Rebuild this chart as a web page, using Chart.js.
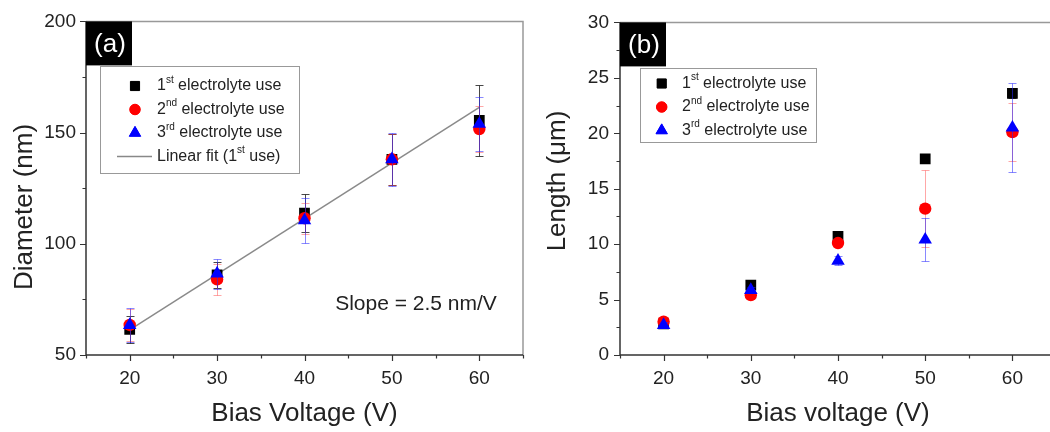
<!DOCTYPE html>
<html>
<head>
<meta charset="utf-8">
<script src="https://cdn.jsdelivr.net/npm/chart.js@4/dist/chart.umd.min.js"></script>
<style>
  html, body { margin: 0; padding: 0; background: #fff; overflow: hidden; width: 1050px; height: 432px; }
  .panel { position: absolute; top: 0; }
  #panelA { left: 0; }
  #panelB { left: 540px; }
</style>
</head>
<body>
<div class="panel" id="panelA"><canvas id="chartA" width="540" height="432"></canvas></div>
<div class="panel" id="panelB"><canvas id="chartB" width="540" height="432"></canvas></div>
<script>
// Bias voltages (V)
const voltages = [20, 30, 40, 50, 60];

// (a) nanotube diameter (nm) with standard deviations
const diam1 = [61.5, 86.0, 113.8, 138.0, 155.5];
const diam1Err = [6.0, 6.0, 8.6, 11.5, 16.0];
const diam2 = [63.5, 84.0, 111.5, 138.0, 151.6];
const diam2Err = [7.0, 7.0, 7.0, 11.5, 10.5];
const diam3 = [63.5, 86.6, 110.5, 138.0, 153.9];
const diam3Err = [7.5, 6.7, 10.0, 12.0, 12.0];

// Linear fit of the 1st-use diameters, evaluated at the end voltages
const fitVoltages = [20, 60];
const fitDiam = [61.3, 161.3];

// (b) nanotube length (µm) with standard deviations
const len1 = [2.8, 6.3, 10.7, 17.7, 23.6];
const len1Err = [0.2, 0.2, 0.2, 0.3, 0.4];
const len2 = [3.0, 5.4, 10.1, 13.2, 20.1];
const len2Err = [0.3, 0.3, 0.3, 3.5, 2.6];
const len3 = [2.7, 5.85, 8.5, 10.4, 20.5];
const len3Err = [0.3, 0.3, 0.4, 1.95, 4.0];

// Labelled tick values
const xTickLabels = [20, 30, 40, 50, 60];
const diamTickLabels = [50, 100, 150, 200];
const lenTickLabels = [0, 5, 10, 15, 20, 25, 30];

// Legend entries: [number, superscript, rest]
const seriesNames = [
  ['1', 'st', ' electrolyte use'],
  ['2', 'nd', ' electrolyte use'],
  ['3', 'rd', ' electrolyte use']
];
const fitName = ['Linear fit (1', 'st', ' use)'];

const FONT = "'Liberation Sans', Arial, Helvetica, sans-serif";
const TEXT = '#222';

const toPoints = (xs, ys) => xs.map((x, i) => ({ x, y: ys[i] }));

const seriesStyle = [
  { color: '#000000', style: 'rect', radius: 7.6, err: 'rgba(40,40,40,0.85)' },
  { color: '#ff0000', style: 'circle', radius: 6.2, err: 'rgba(255,60,60,0.45)' },
  { color: '#0000ff', style: 'triangle', radius: 7.8, err: 'rgba(40,40,255,0.55)' }
];

// Error bars are drawn just before each dataset's own markers
const errorBars = {
  id: 'errorBars',
  beforeDatasetDraw(chart, args) {
    const ds = chart.data.datasets[args.index];
    if (!ds.errors) return;
    const { ctx, scales: { x, y } } = chart;
    ctx.save();
    ctx.strokeStyle = ds.errorColor;
    ctx.lineWidth = 1;
    ds.data.forEach((p, i) => {
      const e = ds.errors[i];
      if (!e) return;
      const px = Math.round(x.getPixelForValue(p.x)) + 0.5;
      const yt = Math.round(y.getPixelForValue(p.y + e)) + 0.5;
      const yb = Math.round(y.getPixelForValue(p.y - e)) + 0.5;
      ctx.beginPath();
      ctx.moveTo(px, yt); ctx.lineTo(px, yb);
      ctx.moveTo(px - 4, yt); ctx.lineTo(px + 4, yt);
      ctx.moveTo(px - 4, yb); ctx.lineTo(px + 4, yb);
      ctx.stroke();
    });
    ctx.restore();
  }
};

// Axis frame with outward major/minor tick marks
const frame = {
  id: 'frame',
  beforeDatasetsDraw(chart) {
    const { ctx, chartArea: a, scales: { x, y } } = chart;
    ctx.save();
    ctx.lineWidth = 1.5;
    ctx.strokeStyle = '#999';
    ctx.beginPath();
    ctx.moveTo(a.left, a.top); ctx.lineTo(a.right, a.top); ctx.lineTo(a.right, a.bottom);
    ctx.stroke();
    ctx.strokeStyle = '#333';
    ctx.beginPath();
    ctx.moveTo(a.left, a.top); ctx.lineTo(a.left, a.bottom); ctx.lineTo(a.right, a.bottom);
    ctx.stroke();
    ctx.lineWidth = 1.2;
    ctx.beginPath();
    x.ticks.forEach(t => {
      const px = Math.round(x.getPixelForValue(t.value)) + 0.5;
      const len = t.label !== '' ? 6 : 3.5;
      ctx.moveTo(px, a.bottom); ctx.lineTo(px, a.bottom + len);
    });
    y.ticks.forEach(t => {
      const py = Math.round(y.getPixelForValue(t.value)) + 0.5;
      const len = t.label !== '' ? 6 : 3.5;
      ctx.moveTo(a.left, py); ctx.lineTo(a.left - len, py);
    });
    ctx.stroke();
    ctx.restore();
  }
};

function drawRichText(ctx, parts, x, y, size) {
  // parts: [normal, superscript, normal]
  ctx.textBaseline = 'middle';
  ctx.textAlign = 'left';
  ctx.font = size + 'px ' + FONT;
  ctx.fillText(parts[0], x, y);
  x += ctx.measureText(parts[0]).width;
  const sup = Math.round(size * 0.6);
  ctx.font = sup + 'px ' + FONT;
  ctx.fillText(parts[1], x, y - size * 0.38);
  x += ctx.measureText(parts[1]).width;
  ctx.font = size + 'px ' + FONT;
  ctx.fillText(parts[2], x, y);
}

// Panel letter, legend box, y title and notes
const decorations = {
  id: 'decorations',
  afterDatasetsDraw(chart, args, o) {
    const { ctx, chartArea: a } = chart;
    ctx.save();
    // panel letter
    ctx.fillStyle = '#000';
    ctx.fillRect(a.left, a.top, 46, 44);
    ctx.fillStyle = '#fff';
    ctx.font = '26px ' + FONT;
    ctx.textAlign = 'center';
    ctx.textBaseline = 'middle';
    ctx.fillText(o.letter, a.left + 24, a.top + 23);

    // legend
    const L = o.legend;
    ctx.strokeStyle = '#999';
    ctx.lineWidth = 1;
    ctx.strokeRect(L.x + 0.5, L.y + 0.5, L.w, L.h);
    ctx.fillStyle = TEXT;
    L.entries.forEach((en, i) => {
      const cy = L.y + L.first + i * L.step;
      if (en.line) {
        ctx.strokeStyle = '#888';
        ctx.lineWidth = 1.5;
        ctx.beginPath();
        ctx.moveTo(L.mx - 18, cy); ctx.lineTo(L.mx + 17, cy);
        ctx.stroke();
      } else {
        ctx.fillStyle = en.color;
        ctx.strokeStyle = en.color;
        Chart.helpers.drawPoint(ctx, { pointStyle: en.style, radius: en.radius, rotation: 0, borderWidth: 1 }, L.mx, cy);
        ctx.fill();
      }
      ctx.fillStyle = TEXT;
      drawRichText(ctx, en.text, L.tx, cy, L.size);
    });

    // rotated y-axis title
    ctx.fillStyle = TEXT;
    ctx.font = '26px ' + FONT;
    ctx.textAlign = 'center';
    ctx.textBaseline = 'middle';
    ctx.translate(o.yTitle.x, o.yTitle.y);
    ctx.rotate(-Math.PI / 2);
    ctx.fillText(o.yTitle.text, 0, 0);
    ctx.setTransform(1, 0, 0, 1, 0, 0);

    if (o.note) {
      ctx.font = o.note.size + 'px ' + FONT;
      ctx.textAlign = 'center';
      ctx.fillText(o.note.text, o.note.x, o.note.y);
    }
    ctx.restore();
  }
};

function seriesDatasets(ys, errs) {
  return ys.map((vals, i) => ({
    label: seriesNames[i].join(''),
    data: toPoints(voltages, vals),
    errors: errs[i],
    errorColor: seriesStyle[i].err,
    pointStyle: seriesStyle[i].style,
    pointRadius: seriesStyle[i].radius,
    pointHoverRadius: seriesStyle[i].radius,
    backgroundColor: seriesStyle[i].color,
    borderColor: seriesStyle[i].color,
    borderWidth: 0,
    showLine: false,
    order: 3 - i
  }));
}

function axisX(title, titlePad) {
  return {
    type: 'linear', min: 15, max: 65,
    afterFit: s => { s.height = 77; },
    grid: { display: false, drawTicks: false },
    border: { display: false },
    ticks: {
      stepSize: 5, autoSkip: false, maxRotation: 0, padding: 12,
      color: TEXT, font: { family: FONT, size: 19 },
      callback: v => xTickLabels.includes(v) ? String(v) : ''
    },
    title: { display: true, text: title, color: TEXT, font: { family: FONT, size: 26 }, padding: { top: 0, bottom: titlePad } }
  };
}

function axisY(min, max, step, labels, width, pad) {
  return {
    type: 'linear', min, max,
    afterFit: s => { s.width = width; },
    grid: { display: false, drawTicks: false },
    border: { display: false },
    ticks: {
      stepSize: step, autoSkip: false, padding: pad,
      color: TEXT, font: { family: FONT, size: 19 },
      callback: v => labels.includes(v) ? String(v) : ''
    }
  };
}

const common = {
  responsive: false,
  animation: false,
  events: [],
  plugins: { legend: { display: false }, tooltip: { enabled: false } }
};

const legendMarkers = seriesStyle.map(s => ({ color: s.color, style: s.style, radius: s.radius * 0.85 }));

// (a) Diameter vs bias voltage
new Chart(document.getElementById('chartA'), {
  type: 'scatter',
  data: {
    datasets: [
      ...seriesDatasets([diam1, diam2, diam3], [diam1Err, diam2Err, diam3Err]),
      {
        label: fitName.join(''),
        type: 'line',
        data: toPoints(fitVoltages, fitDiam),
        borderColor: '#8a8a8a', borderWidth: 1.5, pointRadius: 0, fill: false, order: 5
      }
    ]
  },
  options: {
    ...common,
    layout: { padding: { top: 18, right: 17, left: 0, bottom: 0 } },
    scales: {
      x: axisX('Bias Voltage (V)', 3),
      y: axisY(50, 200, 25, diamTickLabels, 86, 10)
    },
    plugins: {
      ...common.plugins,
      decorations: {
        letter: '(a)',
        yTitle: { text: 'Diameter (nm)', x: 25, y: 207 },
        note: { text: 'Slope = 2.5 nm/V', x: 416, y: 304, size: 21 },
        legend: {
          x: 100, y: 66, w: 199, h: 107, first: 20, step: 23.5, mx: 135, tx: 157, size: 16,
          entries: [
            ...legendMarkers.map((m, i) => ({ ...m, text: seriesNames[i] })),
            { line: true, text: fitName }
          ]
        }
      }
    }
  },
  plugins: [errorBars, frame, decorations]
});

// (b) Length vs bias voltage
new Chart(document.getElementById('chartB'), {
  type: 'scatter',
  data: {
    datasets: seriesDatasets([len1, len2, len3], [len1Err, len2Err, len3Err])
  },
  options: {
    ...common,
    layout: { padding: { top: 16, right: 24, left: 0, bottom: 0 } },
    scales: {
      x: axisX('Bias voltage (V)', 3),
      y: axisY(0, 30, 2.5, lenTickLabels, 80, 11)
    },
    plugins: {
      ...common.plugins,
      decorations: {
        letter: '(b)',
        yTitle: { text: 'Length (\u03bcm)', x: 18, y: 181 },
        legend: {
          x: 100, y: 68, w: 176, h: 74, first: 15.5, step: 23.5, mx: 121.7, tx: 142, size: 16,
          entries: legendMarkers.map((m, i) => ({ ...m, text: seriesNames[i] }))
        }
      }
    }
  },
  plugins: [errorBars, frame, decorations]
});
</script>
</body>
</html>
